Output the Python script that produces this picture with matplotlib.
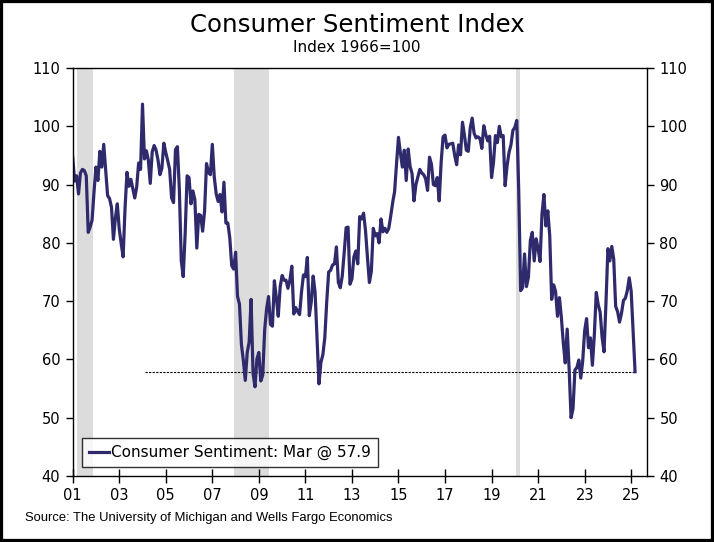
import matplotlib

matplotlib.use("Agg")
import matplotlib.pyplot as plt  # noqa: E402
from matplotlib.patches import Rectangle  # noqa: E402

# University of Michigan consumer sentiment, monthly, Jan 2001 - Mar 2025
sentiment = [
    # 2001
    94.7, 90.6, 91.5, 88.4, 92.0, 92.6, 92.4, 91.5, 81.8, 82.7, 83.9, 88.8,
    # 2002
    93.0, 90.7, 95.7, 93.0, 96.9, 92.4, 88.1, 87.6, 86.1, 80.6, 84.2, 86.7,
    # 2003
    82.4, 79.9, 77.6, 86.0, 92.1, 89.7, 90.9, 89.3, 87.7, 89.6, 93.7, 92.6,
    # 2004
    103.8, 94.4, 95.8, 94.2, 90.2, 95.6, 96.7, 95.9, 94.2, 91.7, 92.8, 97.1,
    # 2005
    95.5, 94.1, 92.6, 87.7, 86.9, 96.0, 96.5, 89.1, 76.9, 74.2, 81.6, 91.5,
    # 2006
    91.2, 86.7, 88.9, 87.4, 79.1, 84.9, 84.7, 82.0, 85.4, 93.6, 92.1, 91.7,
    # 2007
    96.9, 91.3, 88.4, 87.1, 88.3, 85.3, 90.4, 83.4, 83.4, 80.9, 76.1, 75.5,
    # 2008
    78.4, 70.8, 69.5, 62.6, 59.8, 56.4, 61.2, 63.0, 70.3, 57.6, 55.3, 60.1,
    # 2009
    61.2, 56.3, 57.3, 65.1, 68.7, 70.8, 66.0, 65.7, 73.5, 70.6, 67.4, 72.5,
    # 2010
    74.4, 73.6, 73.6, 72.2, 73.6, 76.0, 67.8, 68.9, 68.2, 67.7, 71.6, 74.5,
    # 2011
    74.2, 77.5, 67.5, 69.8, 74.3, 71.5, 63.7, 55.8, 59.5, 60.8, 63.7, 69.9,
    # 2012
    75.0, 75.3, 76.2, 76.4, 79.3, 73.2, 72.3, 74.3, 78.3, 82.6, 82.7, 72.9,
    # 2013
    73.8, 77.6, 78.6, 76.4, 84.5, 84.1, 85.1, 82.1, 77.5, 73.2, 75.1, 82.5,
    # 2014
    81.2, 81.6, 80.0, 84.1, 81.9, 82.5, 81.8, 82.5, 84.6, 86.9, 88.8, 93.6,
    # 2015
    98.1, 95.4, 93.0, 95.9, 90.7, 96.1, 93.1, 91.9, 87.2, 90.0, 91.3, 92.6,
    # 2016
    92.0, 91.7, 91.0, 89.0, 94.7, 93.5, 90.0, 89.8, 91.2, 87.2, 93.8, 98.2,
    # 2017
    98.5, 96.3, 96.9, 97.0, 97.1, 95.0, 93.4, 96.8, 95.1, 100.7, 98.5, 95.9,
    # 2018
    95.7, 99.7, 101.4, 98.8, 98.0, 98.2, 97.9, 96.2, 100.1, 98.6, 97.5, 98.3,
    # 2019
    91.2, 93.8, 98.4, 97.2, 100.0, 98.2, 98.4, 89.8, 93.2, 95.5, 96.8, 99.3,
    # 2020
    99.8, 101.0, 89.1, 71.8, 72.3, 78.1, 72.5, 74.1, 80.4, 81.8, 76.9, 80.7,
    # 2021
    79.0, 76.8, 84.9, 88.3, 82.9, 85.5, 81.2, 70.3, 72.8, 71.7, 67.4, 70.6,
    # 2022
    67.2, 62.8, 59.4, 65.2, 58.4, 50.0, 51.5, 58.2, 58.6, 59.9, 56.8, 59.7,
    # 2023
    64.9, 67.0, 62.0, 63.7, 59.0, 64.2, 71.5, 69.4, 68.1, 63.8, 61.3, 69.7,
    # 2024
    79.0, 76.9, 79.4, 77.2, 69.1, 68.2, 66.4, 67.9, 70.1, 70.5, 71.8, 74.0,
    # 2025
    71.7, 64.7, 57.9,
]
start_year = 2001
latest_value = 57.9
latest_line_start = 2004.1

# recessions (start, end) in fractional years
recessions = [(2001.17, 2001.86), (2007.92, 2009.42), (2020.07, 2020.24)]

x_ticks = list(range(2001, 2026, 2))
x_labels = [f"{y % 100:02d}" for y in x_ticks]
y_ticks = list(range(40, 111, 10))

LINE_COLOR = "#2f2a6c"
BAND_COLOR = "#dcdcdc"

months = [start_year + i / 12 for i in range(len(sentiment))]

fig = plt.figure(figsize=(7.14, 5.42), dpi=100)
ax = fig.add_axes([72.7 / 714, 66 / 542, (647 - 72.7) / 714, (476 - 68) / 542])

for r0, r1 in recessions:
    ax.axvspan(r0, r1, color=BAND_COLOR, lw=0, zorder=0)

ax.plot(
    [latest_line_start, months[-1]],
    [latest_value, latest_value],
    color="black",
    lw=0.8,
    ls=(0, (2.0, 1.2)),
    zorder=1,
)
ax.plot(
    months,
    sentiment,
    color=LINE_COLOR,
    lw=2.3,
    zorder=2,
    label="Consumer Sentiment: Mar @ 57.9",
)

ax.set_xlim(2001, 2025.68)
ax.set_ylim(40, 110)
ax.set_xticks(x_ticks, x_labels)
ax.set_yticks(y_ticks)
ax.tick_params(axis="x", direction="inout", length=10, width=1, labelsize=10.5, pad=4)
ax.tick_params(
    axis="y",
    direction="out",
    length=5,
    width=1,
    labelsize=10.5,
    right=True,
    labelright=True,
    pad=4,
)
for spine in ax.spines.values():
    spine.set_linewidth(1.0)

leg = ax.legend(
    loc="lower left",
    bbox_to_anchor=(0.016, 0.022),
    fontsize=11,
    frameon=True,
    fancybox=False,
    handlelength=1.3,
    handletextpad=0.15,
    borderpad=0.45,
    borderaxespad=0,
)
leg.get_frame().set_edgecolor("black")
leg.get_frame().set_linewidth(1.0)

fig.text(0.5, 1 - 25 / 542, "Consumer Sentiment Index", ha="center", va="center", fontsize=17.6)
fig.text(0.5, 1 - 48 / 542, "Index 1966=100", ha="center", va="center", fontsize=11)
fig.text(
    25 / 714,
    1 - 518 / 542,
    "Source: The University of Michigan and Wells Fargo Economics",
    ha="left",
    va="center",
    fontsize=9.4,
    family="Liberation Sans",
)

# outer black frame
fig.patches.append(
    Rectangle(
        (0, 0), 1, 1, transform=fig.transFigure, fill=False,
        edgecolor="black", linewidth=4.5, zorder=10,
    )
)

fig.savefig("out.png", dpi=100)
